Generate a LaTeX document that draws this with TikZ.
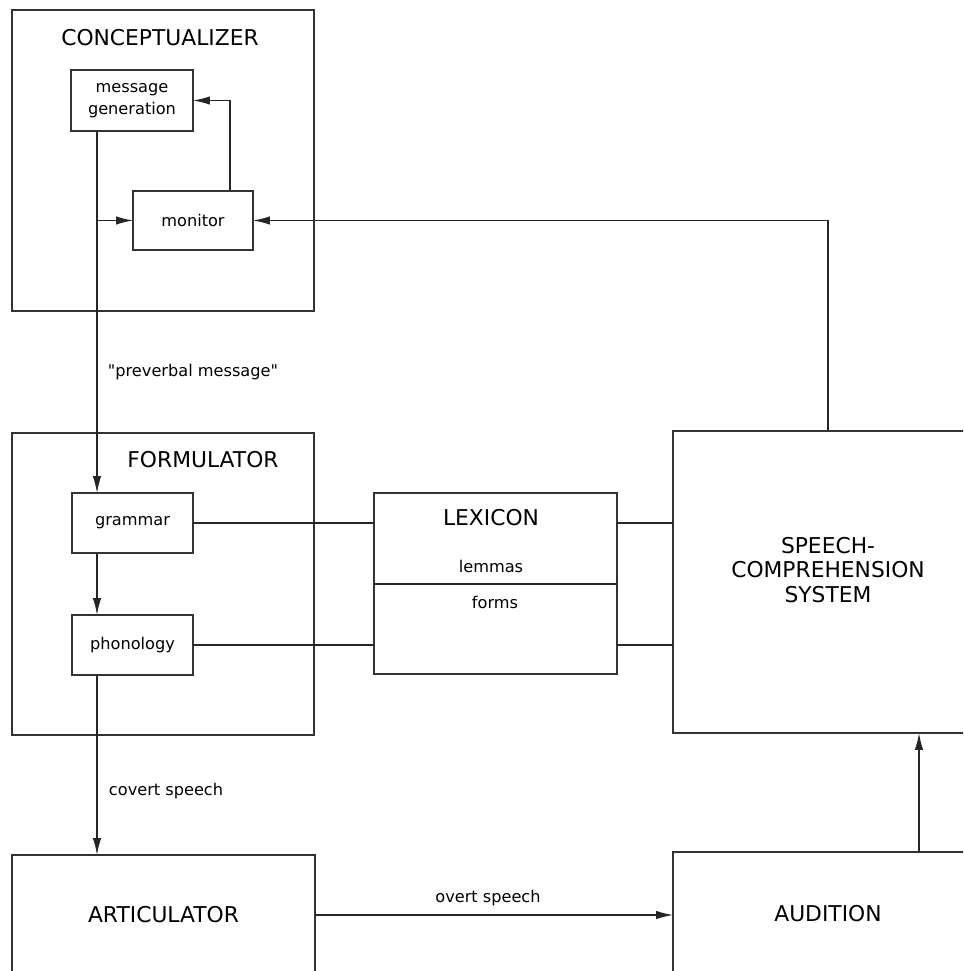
\documentclass[tikz,border=0pt]{standalone}
\usepackage{fontspec}
\setmainfont{DejaVu Sans}[Ligatures=TeXOff]
\usetikzlibrary{arrows.meta}

\tikzset{
  box/.style={draw=black!80, line width=0.9pt, inner sep=0pt, outer sep=0pt, align=center},
  bigtext/.style={font=\fontsize{15.5}{17.5}\selectfont, align=center},
  smalltext/.style={font=\fontsize{11.5}{16}\selectfont, align=center},
  arr/.style={-{Latex[length=12pt,width=6pt]}},
  conn/.style={draw=black!85, line width=0.9pt}
}

\begin{document}
\begin{tikzpicture}[x=0.025cm, y=-0.025cm]

\useasboundingbox (0,0) rectangle (963,971);
\clip (0,0) rectangle (963,971);

% conceptualizer
\node[box, minimum width=7.55cm, minimum height=7.525cm] (concept) at (163,160.5) {};
\node[bigtext] (concepttitle) at (160,38) {CONCEPTUALIZER};
\node[box, smalltext, minimum width=3.05cm, minimum height=1.525cm] (msggen) at (132,100.5) {message\\generation};
\node[box, smalltext, minimum width=3cm, minimum height=1.475cm] (monitor) at (193,220.5) {monitor};

% formulator
\node[box, minimum width=7.55cm, minimum height=7.55cm] (formul) at (163,584) {};
\node[bigtext] (formultitle) at (203,460) {FORMULATOR};
\node[box, smalltext, minimum width=3.025cm, minimum height=1.5cm] (grammar) at (132.5,523) {grammar};
\node[box, smalltext, minimum width=3.025cm, minimum height=1.5cm] (phonology) at (132.5,645) {phonology};

% lexicon
\node[box, minimum width=6.075cm, minimum height=4.525cm] (lexicon) at (495.5,583.5) {};
\node[bigtext] (lextitle) at (491,518) {LEXICON};
\node[smalltext] (lemmas) at (491,566) {lemmas};
\node[smalltext] (forms) at (495,602) {forms};
\draw[conn] (lexicon.west |- 0,584) -- (lexicon.east |- 0,584);

% comprehension side
\node[box, minimum width=7.75cm, minimum height=7.55cm] (speech) at (828,582) {};
\node[bigtext] (speechtitle) at (828,570) {SPEECH-\\COMPREHENSION\\SYSTEM};
\node[box, bigtext, minimum width=7.575cm, minimum height=3cm] (artic) at (163.5,915) {ARTICULATOR};
\node[box, bigtext, minimum width=7.75cm, minimum height=3.075cm] (audition) at (828,913.5) {AUDITION};

\coordinate (spine) at (97,0);
\coordinate (loop) at (230,0);
\coordinate (back) at (919,0);

% connectors
\draw[conn, arr] (msggen.south -| spine) -- (grammar.north -| spine);
\draw[conn, arr] (spine |- monitor.west) -- (monitor.west);
\draw[conn, arr] (monitor.north -| loop) |- (msggen.east);
\draw[conn, arr] (speech.north) |- (monitor.east);
\draw[conn, arr] (grammar.south -| spine) -- (phonology.north -| spine);
\draw[conn, arr] (phonology.south -| spine) -- (artic.north -| spine);
\draw[conn] (grammar.east) -- (grammar.east -| lexicon.west);
\draw[conn] (lexicon.east |- grammar.east) -- (speech.west |- grammar.east);
\draw[conn] (phonology.east) -- (phonology.east -| lexicon.west);
\draw[conn] (lexicon.east |- phonology.east) -- (speech.west |- phonology.east);
\draw[conn, arr] (artic.east) -- (artic.east -| audition.west);
\draw[conn, arr] (audition.north -| back) -- (speech.south -| back);

% labels
\node[smalltext, anchor=west] (preverbal) at (103,372) {"preverbal message"};
\node[smalltext, anchor=west] (covert) at (104,791) {covert speech};
\node[smalltext] (overt) at (488,898) {overt speech};

\end{tikzpicture}
\end{document}
